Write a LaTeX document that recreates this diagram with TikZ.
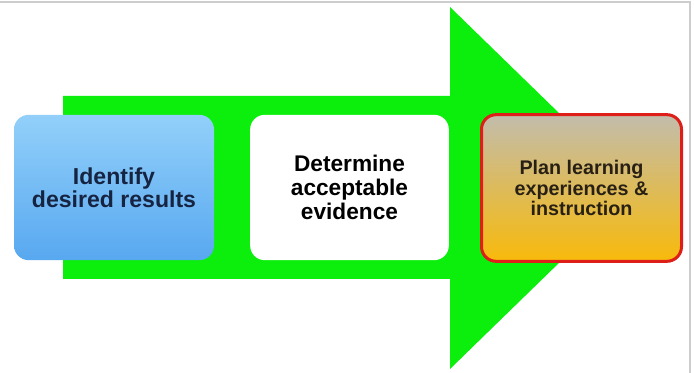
\documentclass[tikz,border=0pt]{standalone}
\usepackage{fontspec}
\setmainfont{Liberation Sans}
\begin{document}
\begin{tikzpicture}[x=0.75pt,y=-0.75pt,
  arrowfill/.style={fill={rgb,255:red,12;green,238;blue,12}},
  stepbox/.style={rounded corners=11pt, align=center, inner sep=0pt},
  bluebox/.style={stepbox, minimum width=150pt, minimum height=109pt,
    font=\bfseries\fontsize{17.3pt}{17.6pt}\selectfont,
    top color={rgb,255:red,146;green,208;blue,250}, bottom color={rgb,255:red,88;green,168;blue,240},
    text={rgb,255:red,22;green,36;blue,66}},
  whitebox/.style={stepbox, minimum width=149pt, minimum height=109pt, fill=white, text=black,
    font=\bfseries\fontsize{17pt}{18pt}\selectfont},
  redbox/.style={stepbox, minimum width=150pt, minimum height=110pt, line width=2.25pt,
    font=\bfseries\fontsize{14.8pt}{15.5pt}\selectfont,
    draw={rgb,255:red,222;green,30;blue,24},
    top color={rgb,255:red,194;green,188;blue,172}, bottom color={rgb,255:red,248;green,186;blue,10},
    text={rgb,255:red,40;green,32;blue,20}},
  frameline/.style={draw={rgb,255:red,205;green,205;blue,205}, line width=1.2pt}
]
\useasboundingbox (0,0) rectangle (694,373);
\fill[white] (0,0) rectangle (694,373);
\draw[frameline] (0,2) -- (690,2) -- (690,373);
% big arrow
\fill[arrowfill] (63,96) -- (450,96) -- (450,7) -- (636,188) -- (450,369) -- (450,279) -- (63,279) -- cycle;
% boxes
\node[bluebox] (identify) at (114,187.5) {Identify\\desired results};
\node[whitebox] (evidence) at (349.5,187.5) {Determine\\acceptable\\evidence};
\node[redbox] (plan) at (581.5,188) {Plan learning\\experiences \&\\instruction};
\end{tikzpicture}
\end{document}
